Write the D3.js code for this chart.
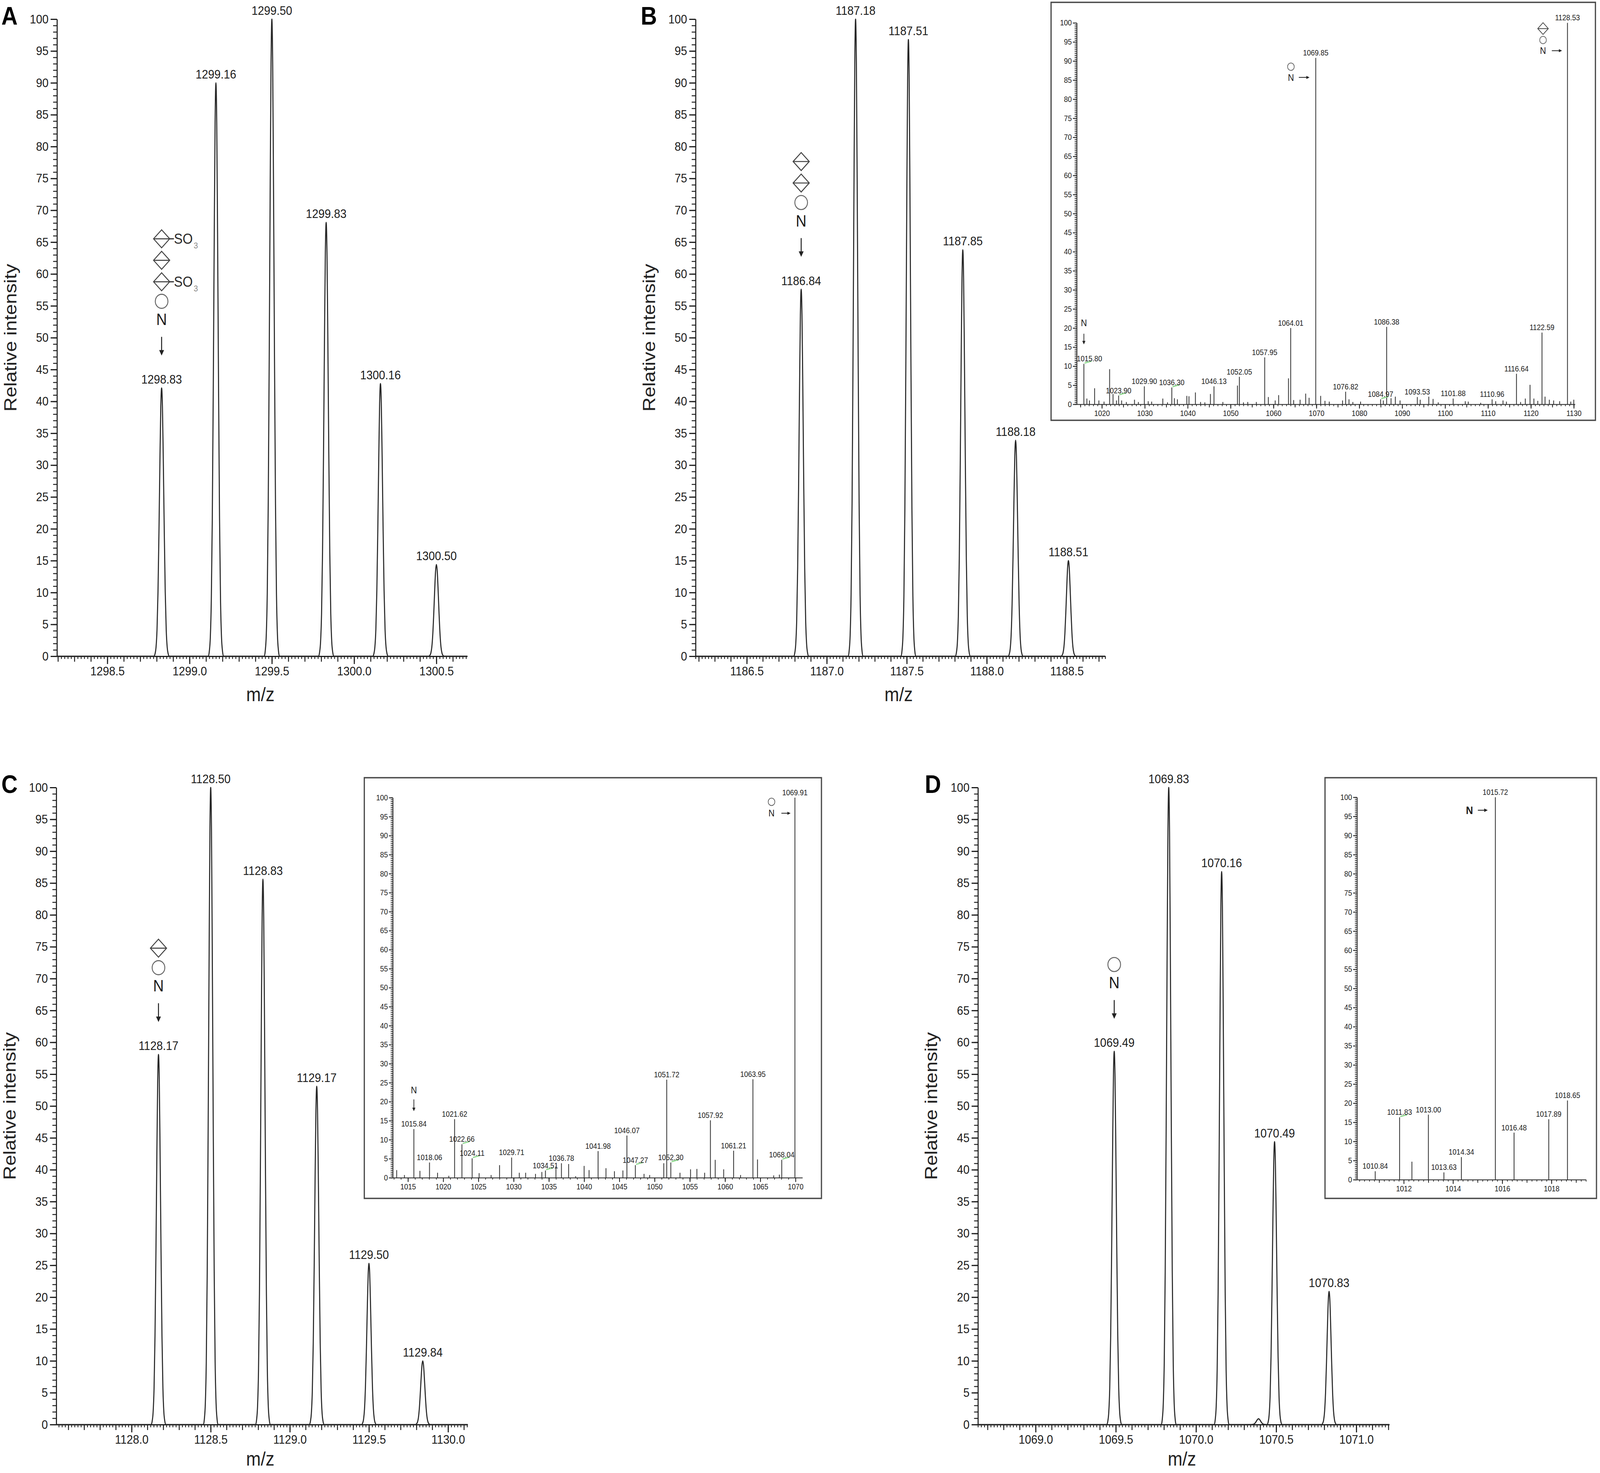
<!DOCTYPE html>
<html><head><meta charset="utf-8"><title>MS spectra</title>
<script src="https://cdn.jsdelivr.net/npm/d3@7/dist/d3.min.js"></script>
<style>html,body{margin:0;padding:0;background:#fff;overflow:hidden;}svg{display:block;}</style>
</head><body>
<svg id="fig" viewBox="0 0 4550 3771" preserveAspectRatio="none"></svg>
<script>
// ================= DATA =================
const yTickLabels = [0,5,10,15,20,25,30,35,40,45,50,55,60,65,70,75,80,85,90,95,100];

// Panel A
const aTicks = [1298.5, 1299.0, 1299.5, 1300.0, 1300.5];
const aMz  = [1298.83, 1299.16, 1299.50, 1299.83, 1300.16, 1300.50];
const aInt = [42.1, 90.0, 100, 68.1, 42.8, 14.4];
const aLabels = ['1298.83','1299.16','1299.50','1299.83','1300.16','1300.50'];

// Panel B
const bTicks = [1186.5, 1187.0, 1187.5, 1188.0, 1188.5];
const bMz  = [1186.84, 1187.18, 1187.51, 1187.85, 1188.18, 1188.51];
const bInt = [57.6, 100, 96.8, 63.8, 33.9, 15.0];
const bLabels = ['1186.84','1187.18','1187.51','1187.85','1188.18','1188.51'];

// Panel C
const cTicks = [1128.0, 1128.5, 1129.0, 1129.5, 1130.0];
const cMz  = [1128.17, 1128.50, 1128.83, 1129.17, 1129.50, 1129.84];
const cInt = [58.1, 100, 85.6, 53.1, 25.3, 10.0];
const cLabels = ['1128.17','1128.50','1128.83','1129.17','1129.50','1129.84'];

// Panel D
const dTicks = [1069.0, 1069.5, 1070.0, 1070.5, 1071.0];
const dMz  = [1069.49, 1069.83, 1070.16, 1070.39, 1070.49, 1070.83];
const dInt = [58.6, 100, 86.8, 0.9, 44.4, 20.9];
const dLabels = ['1069.49','1069.83','1070.16','','1070.49','1070.83'];

// Inset B (MS/MS)
const ibTicks = [1020,1030,1040,1050,1060,1070,1080,1090,1100,1110,1120,1130];
const ibMz  = [1015.80,1016.5,1017.1,1018.3,1019.3,1020.5,1021.8,1022.6,1023.4,1023.90,1024.6,1025.7,1027.6,1028.5,1029.90,1030.8,1031.6,1034.2,1035.3,1036.30,1036.9,1037.6,1039.8,1040.3,1041.8,1043.0,1044.0,1045.3,1046.13,1048.2,1051.6,1052.05,1053.0,1054.0,1056.0,1057.95,1058.8,1060.4,1061.2,1063.5,1064.01,1064.7,1066.2,1067.5,1068.3,1069.85,1071.0,1072.0,1073.0,1076.1,1076.82,1077.6,1078.5,1080.3,1084.97,1085.6,1086.38,1087.4,1088.4,1089.5,1093.53,1094.2,1096.2,1097.2,1098.4,1101.88,1104.7,1105.4,1108.3,1110.96,1111.8,1113.5,1114.3,1116.64,1117.6,1118.7,1119.8,1120.7,1121.6,1122.59,1123.3,1124.3,1125.3,1126.7,1128.53,1129.3,1130.0];
const ibInt = [10.6,1.5,1.0,4.2,1.0,0.7,9.2,2.7,1.0,2.3,1.0,0.6,1.2,0.6,4.7,0.8,0.7,1.5,0.5,4.4,1.6,1.3,2.2,2.1,3.1,0.6,0.5,2.7,4.7,0.6,4.9,7.2,0.5,0.6,0.6,12.3,1.9,1.0,2.4,6.8,20.0,1.1,1.2,2.8,1.7,90.8,2.2,0.9,0.7,1.0,3.3,1.3,0.6,0.7,1.3,1.0,20.3,1.6,2.0,1.0,1.9,1.2,2.0,1.4,0.5,1.5,0.8,0.7,0.4,1.3,0.8,1.0,0.7,8.0,0.6,1.5,5.1,1.5,0.9,18.8,2.0,1.2,1.0,0.8,100,0.7,1.2];
const ibLabels = ['1015.80','1023.90','1029.90','1036.30','1046.13','1052.05','1057.95','1064.01','1069.85','1076.82','1084.97','1086.38','1093.53','1101.88','1110.96','1116.64','1122.59','1128.53'];
const ibGreen = ['1015.80','1023.90','1036.30','1084.97'];

// Inset C (MS/MS)
const icTicks = [1015,1020,1025,1030,1035,1040,1045,1050,1055,1060,1065,1070];
const icMz  = [1013.4,1014.5,1015.84,1016.7,1018.06,1019.2,1020.8,1021.62,1022.66,1024.11,1025.1,1026.8,1028.0,1029.71,1030.8,1031.7,1033.1,1034.0,1034.51,1036.0,1036.78,1037.8,1038.8,1040.0,1040.7,1041.98,1043.1,1044.3,1045.5,1046.07,1047.27,1048.5,1049.3,1051.3,1051.72,1052.30,1053.6,1055.1,1056.0,1057.1,1057.92,1058.6,1059.8,1061.21,1062.2,1063.95,1064.6,1066.9,1067.7,1068.04,1069.91];
const icInt = [2.0,0.7,12.8,1.8,4.0,1.3,0.5,15.4,8.8,5.1,1.2,0.7,3.3,5.3,1.3,1.3,1.0,1.5,1.9,3.0,3.8,3.6,0.4,3.1,2.0,7.0,2.5,1.7,1.9,11.1,3.3,1.0,0.7,3.8,25.8,4.0,1.3,2.2,2.3,1.3,15.1,4.7,2.2,7.1,0.7,25.9,4.8,0.6,0.8,4.7,100];
const icLabels = ['1015.84','1018.06','1021.62','1022.66','1024.11','1029.71','1034.51','1036.78','1041.98','1046.07','1047.27','1051.72','1052.30','1057.92','1061.21','1063.95','1068.04','1069.91'];
const icGreen = ['1022.66','1024.11','1034.51','1047.27','1052.30','1068.04'];

// Inset D (MS/MS)
const idTicks = [1012, 1014, 1016, 1018];
const idMz  = [1010.84, 1011.83, 1012.33, 1013.00, 1013.63, 1014.34, 1015.72, 1016.48, 1017.89, 1018.65];
const idInt = [2.2, 16.3, 4.7, 17.0, 1.9, 5.9, 100, 12.3, 15.8, 20.7];
const idLabels = ['1010.84','1011.83','1013.00','1013.63','1014.34','1015.72','1016.48','1017.89','1018.65'];
const idGreen = ['1011.83'];

// generic profile-peak template (m/z offset, fraction of apex) for the profile spectra
const peakShapeDx   = [-0.046,-0.040,-0.034,-0.028,-0.022,-0.016,-0.010,-0.005,0,0.005,0.010,0.016,0.022,0.028,0.034,0.040,0.046];
const peakShapeFrac = [0,0.009,0.033,0.098,0.24,0.47,0.74,0.93,1,0.93,0.74,0.47,0.24,0.098,0.033,0.009,0];

// ================= DRAWING =================
const svg = d3.select('#fig');
const VW = window.innerWidth || 4550, VH = window.innerHeight || 3771;
svg.attr('width', VW).attr('height', VH);
svg.append('rect').attr('width',4550).attr('height',3771).attr('fill','#fff');
const FONT = '"Liberation Sans", Arial, Helvetica, sans-serif';
const INK = '#1c1c1c';

function fixAxis(sel, fs, sw){
  sel.attr('font-family',FONT).attr('font-size',fs).attr('color',INK);
  sel.selectAll('.domain').attr('stroke-width',sw);
  sel.selectAll('.tick line').attr('stroke-width',sw);
}
function gridRange(d0,d1,step){
  const n0=Math.ceil(d0/step-1e-9), n1=Math.floor(d1/step+1e-9);
  return d3.range(n0,n1+1).map(k=>+(k*step).toFixed(4));
}
function diamond(g,cx,cy,h,sw){
  g.append('path').attr('d',`M${cx-h},${cy}L${cx},${cy-h}L${cx+h},${cy}L${cx},${cy+h}Z M${cx-h},${cy}L${cx+h},${cy}`)
   .attr('fill','none').attr('stroke','#444').attr('stroke-width',sw);
}
function circ(g,cx,cy,r,sw){
  g.append('circle').attr('cx',cx).attr('cy',cy).attr('r',r).attr('fill','none').attr('stroke','#666').attr('stroke-width',sw);
}
function txt(g,x,y,s,fs,anchor,fill,weight){
  return g.append('text').attr('x',x).attr('y',y).attr('font-family',FONT).attr('font-size',fs)
   .attr('text-anchor',anchor||'middle').attr('fill',fill||INK).attr('font-weight',weight||'normal').text(s);
}
function arrowDown(g,cx,y0,y1,hl,hw,sw){
  g.append('line').attr('x1',cx).attr('x2',cx).attr('y1',y0).attr('y2',y1-hl+2).attr('stroke','#222').attr('stroke-width',sw);
  g.append('path').attr('d',`M${cx-hw},${y1-hl}L${cx+hw},${y1-hl}L${cx},${y1}Z`).attr('fill','#222');
}
function arrowRight(g,x0,x1,cy,hl,hw,sw){
  g.append('line').attr('x1',x0).attr('x2',x1-hl+2).attr('y1',cy).attr('y2',cy).attr('stroke','#222').attr('stroke-width',sw);
  g.append('path').attr('d',`M${x1-hl},${cy-hw}L${x1-hl},${cy+hw}L${x1},${cy}Z`).attr('fill','#222');
}

function drawMain(c){
  const g = svg.append('g');
  const x = d3.scaleLinear().domain(c.domain).range([c.x0,c.x1]);
  const y = d3.scaleLinear().domain([0,100]).range([c.yBot,c.yTop]);
  g.append('g').attr('transform',`translate(${c.x0},0)`)
    .call(d3.axisLeft(y).tickValues(d3.range(0,101,1)).tickSize(11).tickFormat(''))
    .call(s=>{s.select('.domain').remove(); fixAxis(s,32,2.4);});
  g.append('g').attr('transform',`translate(${c.x0},0)`)
    .call(d3.axisLeft(y).tickValues(yTickLabels).tickSize(18).tickSizeOuter(0).tickPadding(6).tickFormat(d3.format('d')))
    .call(s=>fixAxis(s,32,3));
  const xb = `translate(0,${c.yBot})`;
  g.append('g').attr('transform',xb)
    .call(d3.axisBottom(x).tickValues(gridRange(c.domain[0],c.domain[1],0.02)).tickSize(7).tickFormat(''))
    .call(s=>{s.select('.domain').remove(); fixAxis(s,32,2.4);});
  g.append('g').attr('transform',xb)
    .call(d3.axisBottom(x).tickValues(gridRange(c.domain[0],c.domain[1],0.1)).tickSize(14).tickFormat(''))
    .call(s=>{s.select('.domain').remove(); fixAxis(s,32,2.6);});
  g.append('g').attr('transform',xb)
    .call(d3.axisBottom(x).tickValues(c.ticks).tickSize(20).tickSizeOuter(0).tickPadding(6).tickFormat(d3.format('.1f')))
    .call(s=>fixAxis(s,32,3));
  const pts=[[c.domain[0],0]];
  c.mz.forEach((m,i)=>peakShapeDx.forEach((dx,j)=>pts.push([m+dx,c.int[i]*peakShapeFrac[j]])));
  pts.push([c.domain[1],0]);
  pts.sort((a,b)=>a[0]-b[0]);
  g.append('path').attr('d',d3.line().x(d=>x(d[0])).y(d=>y(d[1])).curve(d3.curveMonotoneX)(pts))
    .attr('fill','none').attr('stroke','#262626').attr('stroke-width',3).attr('stroke-linejoin','round');
  g.selectAll('text.pk').data(c.mz.map((m,i)=>({m,v:c.int[i],t:c.labels[i]})).filter(d=>d.t))
    .join('text').attr('class','pk').attr('x',d=>x(d.m)).attr('y',d=>y(d.v)-11)
    .attr('text-anchor','middle').attr('font-size',32).attr('font-family',FONT).attr('fill',INK).text(d=>d.t);
  const gi = c.glycanPeak, gx = x(c.mz[gi]), lb = y(c.int[gi]) - 11;
  const aBot = lb - 72, aTop = aBot - 48, nC = aTop - 45;
  arrowDown(g,gx,aTop,aBot,14,7,2.8);
  txt(g,gx,nC+15,'N',42,'middle','#1a1a1a');
  let cy = nC - 46;
  const syms = c.glycan.slice().reverse();
  syms.forEach((s,i)=>{
    if(i===1) cy -= 50; else if(i>1) cy -= 55;
    if(s==='c') circ(g,gx,cy,18,2.6);
    else {
      diamond(g,gx,cy,23,2.6);
      if(s==='dS'){
        g.append('line').attr('x1',gx+23).attr('x2',gx+35).attr('y1',cy).attr('y2',cy).attr('stroke','#333').attr('stroke-width',3);
        txt(g,gx+35,cy+13,'SO',37,'start','#2a2a2a');
        txt(g,gx+91,cy+25,'3',22,'start','#8a8a8a');
      }
    }
  });
  g.append('text').attr('transform',`translate(${c.ylabX},${(c.yTop+c.yBot)/2}) rotate(-90)`)
    .attr('text-anchor','middle').attr('dominant-baseline','central').attr('font-family',FONT).attr('font-size',50).attr('fill','#222').text('Relative intensity');
  txt(g,(c.x0+c.x1)/2-5,c.mzY,'m/z',50,'middle','#222');
  txt(g,c.lx,c.ly,c.letter,64,'start','#000','bold');
}

function drawInset(c){
  const g = svg.append('g');
  g.append('rect').attr('x',c.box[0]).attr('y',c.box[1]).attr('width',c.box[2]-c.box[0]).attr('height',c.box[3]-c.box[1])
    .attr('fill','#fff').attr('stroke','#4a4a4a').attr('stroke-width',3.5);
  const x = d3.scaleLinear().domain(c.domain).range([c.x0,c.x1]);
  const y = d3.scaleLinear().domain([0,100]).range([c.yBot,c.yTop]);
  g.append('g').attr('transform',`translate(${c.x0},0)`)
    .call(d3.axisLeft(y).tickValues(d3.range(0,100.01,0.5)).tickSize(6).tickFormat(''))
    .call(s=>{s.select('.domain').remove(); fixAxis(s,20,1.8);});
  g.append('g').attr('transform',`translate(${c.x0},0)`)
    .call(d3.axisLeft(y).tickValues(yTickLabels).tickSize(11).tickSizeOuter(0).tickPadding(3).tickFormat(d3.format('d')))
    .call(s=>fixAxis(s,20,2.2));
  const xb = `translate(0,${c.yBot})`;
  g.append('g').attr('transform',xb)
    .call(d3.axisBottom(x).tickValues(gridRange(c.domain[0],c.domain[1],c.minor)).tickSize(5).tickFormat(''))
    .call(s=>{s.select('.domain').remove(); fixAxis(s,20,1.8);});
  g.append('g').attr('transform',xb)
    .call(d3.axisBottom(x).tickValues(gridRange(c.domain[0],c.domain[1],c.mid)).tickSize(8).tickFormat(''))
    .call(s=>{s.select('.domain').remove(); fixAxis(s,20,2);});
  g.append('g').attr('transform',xb)
    .call(d3.axisBottom(x).tickValues(c.ticks).tickSize(11).tickSizeOuter(0).tickPadding(5).tickFormat(d3.format('d')))
    .call(s=>fixAxis(s,20,2.2));
  const data = c.mz.map((m,i)=>({m,v:c.int[i]}));
  g.selectAll('line.stk').data(data).join('line').attr('class','stk')
    .attr('x1',d=>x(d.m)).attr('x2',d=>x(d.m)).attr('y1',y(0)).attr('y2',d=>y(d.v))
    .attr('stroke','#3c3c3c').attr('stroke-width',2.4);
  const lab = data.filter(d=>c.labels.includes(d.m.toFixed(2)));
  g.selectAll('line.grn').data(lab.filter(d=>c.green.includes(d.m.toFixed(2)))).join('line').attr('class','grn')
    .attr('x1',d=>x(d.m)+2).attr('y1',d=>y(d.v)-2).attr('x2',d=>x(d.m)+22).attr('y2',d=>y(d.v)-7)
    .attr('stroke','#8cd88c').attr('stroke-width',3);
  g.selectAll('text.pk').data(lab).join('text').attr('class','pk')
    .attr('x',d=>x(d.m)+((c.labelDx||{})[d.m.toFixed(2)]||0)).attr('y',d=>y(d.v)-6)
    .attr('text-anchor','middle').attr('font-family',FONT).attr('font-size',20).attr('fill',INK).text(d=>d.m.toFixed(2));
  c.notes(g,x,y);
}

drawMain({letter:'A',lx:4,ly:63,x0:162,x1:1329,yTop:49,yBot:1680,domain:[1298.194,1300.688],ticks:aTicks,
  mz:aMz,int:aInt,labels:aLabels,glycanPeak:0,glycan:['dS','d','dS','c'],ylabX:29,mzY:1795});
drawMain({letter:'B',lx:1822,ly:63,x0:1978,x1:3143,yTop:49,yBot:1680,domain:[1186.18,1188.74],ticks:bTicks,
  mz:bMz,int:bInt,labels:bLabels,glycanPeak:0,glycan:['d','d','c'],ylabX:1845,mzY:1795});
drawMain({letter:'C',lx:4,ly:2030,x0:160,x1:1330,yTop:2016,yBot:3647,domain:[1127.524,1130.124],ticks:cTicks,
  mz:cMz,int:cInt,labels:cLabels,glycanPeak:0,glycan:['d','c'],ylabX:27,mzY:3752});
drawMain({letter:'D',lx:2630,ly:2030,x0:2781,x1:3951,yTop:2016,yBot:3647,domain:[1068.64,1071.206],ticks:dTicks,
  mz:dMz,int:dInt,labels:dLabels,glycanPeak:0,glycan:['c'],ylabX:2648,mzY:3752});

drawInset({box:[2989,6,4537,1076],x0:3062,x1:4479,yTop:58.5,yBot:1035,domain:[1014.14,1130.29],
  ticks:ibTicks,minor:1,mid:5,mz:ibMz,int:ibInt,labels:ibLabels,green:ibGreen,labelDx:{'1015.80':16},
  notes:(g,x,y)=>{
    txt(g,x(1015.80),y(21.3)+8.5,'N',24,'middle','#1a1a1a');
    arrowDown(g,x(1015.80),y(18.5),y(15.7),9,4.5,2);
    circ(g,x(1064.06),y(88.5),9.5,2); txt(g,x(1064.06),y(85.7)+8.5,'N',24,'middle','#1a1a1a');
    arrowRight(g,x(1065.9),x(1068.4),y(85.7),9,4,2);
    diamond(g,x(1122.83),y(98.5),15,2); circ(g,x(1122.83),y(95.5),9.5,2);
    txt(g,x(1122.83),y(92.7)+8.5,'N',24,'middle','#1a1a1a');
    arrowRight(g,x(1124.88),x(1127.26),y(92.7),9,4,2);
  }});
drawInset({box:[1036,1991,2336,3068],x0:1117,x1:2282,yTop:2042,yBot:3015,domain:[1012.85,1070.98],
  ticks:icTicks,minor:1,mid:5,mz:icMz,int:icInt,labels:icLabels,green:icGreen,
  notes:(g,x,y)=>{
    txt(g,x(1015.84),y(23.1)+8.5,'N',24,'middle','#1a1a1a');
    arrowDown(g,x(1015.84),y(20.6),y(17.5),9,4.5,2);
    circ(g,x(1066.59),y(98.9),9.5,2); txt(g,x(1066.59),y(95.9)+8.5,'N',24,'middle','#1a1a1a');
    arrowRight(g,x(1067.99),x(1069.29),y(95.9),9,4,2);
  }});
drawInset({box:[3768,1991,4540,3068],x0:3859,x1:4510,yTop:2041,yBot:3020,domain:[1010.1,1019.4],
  ticks:idTicks,minor:0.2,mid:1,mz:idMz,int:idInt,labels:idLabels,green:idGreen,
  notes:(g,x,y)=>{
    txt(g,x(1014.67),y(96.6)+10,'N',28,'middle','#1a1a1a','bold');
    arrowRight(g,x(1015.01),x(1015.41),y(96.6),10,4.5,2.2);
  }});
</script>
</body></html>
